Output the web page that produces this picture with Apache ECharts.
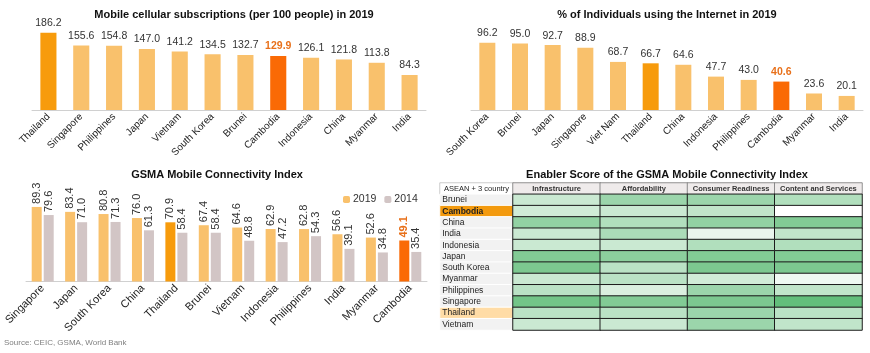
<!DOCTYPE html>
<html lang="en">
<head>
    <meta charset="UTF-8">
    <title>ASEAN+3 mobile connectivity</title>
    <script src="https://cdn.jsdelivr.net/npm/echarts@6/dist/echarts.min.js"></script>
    <style>
        html, body { margin: 0; padding: 0; background: #fff; }
        #chart { width: 870px; height: 353px; }
    </style>
</head>
<body>
    <div id="chart"></div>
    <script>
        // --- data ---
        var mobCountries = ['Thailand', 'Singapore', 'Philippines', 'Japan', 'Vietnam', 'South Korea', 'Brunei', 'Cambodia', 'Indonesia', 'China', 'Myanmar', 'India'];
        var mobValues = [186.2, 155.6, 154.8, 147.0, 141.2, 134.5, 132.7, 129.9, 126.1, 121.8, 113.8, 84.3];

        var netCountries = ['South Korea', 'Brunei', 'Japan', 'Singapore', 'Viet Nam', 'Thailand', 'China', 'Indonesia', 'Philippines', 'Cambodia', 'Myanmar', 'India'];
        var netValues = [96.2, 95.0, 92.7, 88.9, 68.7, 66.7, 64.6, 47.7, 43.0, 40.6, 23.6, 20.1];

        var gsmaCountries = ['Singapore', 'Japan', 'South Korea', 'China', 'Thailand', 'Brunei', 'Vietnam', 'Indonesia', 'Philippines', 'India', 'Myanmar', 'Cambodia'];
        var gsma2019 = [89.3, 83.4, 80.8, 76.0, 70.9, 67.4, 64.6, 62.9, 62.8, 56.6, 52.6, 49.1];
        var gsma2014 = [79.6, 71.0, 71.3, 61.3, 58.4, 58.4, 48.8, 47.2, 54.3, 39.1, 34.8, 35.4];

        var enablerHeader = 'ASEAN + 3 country';
        var enablerPillars = ['Infrastructure', 'Affordability', 'Consumer Readiness', 'Content and Services'];
        var enablerCountries = ['Brunei', 'Cambodia', 'China', 'India', 'Indonesia', 'Japan', 'South Korea', 'Myanmar', 'Philippines', 'Singapore', 'Thailand', 'Vietnam'];
        // estimated from the shading of each cell
        var enablerScores = [
            [57, 72, 72, 65],
            [55, 57, 60, 40],
            [75, 65, 75, 80],
            [57, 67, 47, 60],
            [57, 57, 65, 65],
            [80, 77, 80, 80],
            [82, 62, 82, 82],
            [57, 62, 55, 45],
            [62, 52, 72, 60],
            [85, 80, 82, 90],
            [62, 62, 72, 62],
            [57, 57, 72, 60]
        ];

        var FONT = 'Liberation Sans';
        var C_LIGHT = '#F9C16C';
        var C_THAI = '#F79B0C';
        var C_CAMB = '#FA6A05';
        var C_GREY = '#D2C5C5';

        function barColor(name) {
            if (name === 'Thailand') return C_THAI;
            if (name === 'Cambodia') return C_CAMB;
            return C_LIGHT;
        }

        function barData(names, values) {
            return values.map(function (v, i) {
                var item = { value: v, itemStyle: { color: barColor(names[i]) } };
                if (names[i] === 'Cambodia') {
                    item.label = { color: '#E8701A', fontWeight: 'bold' };
                }
                return item;
            });
        }

        function oneDecimal(p) { return Number(p.value).toFixed(1); }

        function catAxis(grid, names, size) {
            return {
                type: 'category', gridIndex: grid, data: names,
                axisLine: { lineStyle: { color: '#d0d0d0' } },
                axisTick: { show: false },
                axisLabel: { rotate: 45, fontSize: size, color: '#222', fontFamily: FONT, margin: 5, interval: 0 }
            };
        }
        function valAxis(grid, max) {
            return { type: 'value', gridIndex: grid, min: 0, max: max, show: false, splitLine: { show: false } };
        }

        var topLabel = { show: true, position: 'top', distance: 4, fontSize: 10.5, color: '#333',
                         fontFamily: FONT, formatter: oneDecimal };
        var sideLabel = { show: true, position: 'top', rotate: 90, align: 'left', verticalAlign: 'middle',
                          distance: 3, fontSize: 11, color: '#333', fontFamily: FONT, formatter: oneDecimal };

        // table cells (header row + country column are drawn as heatmap cells too)
        var rowNames = [enablerHeader].concat(enablerCountries);
        var labelCells = rowNames.map(function (n, i) {
            var bg = '#F2F2F2', weight = 'normal', pos = 'insideLeft';
            if (i === 0) { bg = '#FFFFFF'; pos = 'inside'; }
            if (n === 'Cambodia') { bg = '#F39A0E'; weight = 'bold'; }
            if (n === 'Thailand') { bg = '#FFDCA6'; }
            return {
                value: [0, i, 0],
                itemStyle: { color: bg, borderColor: i === 0 ? '#999' : '#fff', borderWidth: i === 0 ? 0.5 : 1 },
                label: { position: pos, fontWeight: weight, fontSize: i === 0 ? 7.5 : 8.5 }
            };
        });
        var headCells = enablerPillars.map(function (p, j) {
            return [j, 0, 0];
        });
        var scoreCells = [];
        enablerScores.forEach(function (row, i) {
            row.forEach(function (s, j) {
                scoreCells.push([j, i + 1, s]);
            });
        });

        var chart = echarts.init(document.getElementById('chart'));

        var titleStyle = { fontSize: 11, fontWeight: 'bold', color: '#111', fontFamily: FONT };

        var option = {
            animation: false,
            textStyle: { fontFamily: FONT },
            title: [
                { text: 'Mobile cellular subscriptions (per 100 people) in 2019', left: 229, top: 4, textAlign: 'center', textStyle: titleStyle },
                { text: '% of Individuals using the Internet in 2019', left: 662, top: 4, textAlign: 'center', textStyle: titleStyle },
                { text: 'GSMA Mobile Connectivity Index', left: 212, top: 164, textAlign: 'center', textStyle: titleStyle },
                { text: 'Enabler Score of the GSMA Mobile Connectivity Index', left: 662, top: 164, textAlign: 'center', textStyle: titleStyle }
            ],
            legend: {
                data: ['2019', '2014'], left: 338, top: 189,
                itemWidth: 7, itemHeight: 7, itemGap: 8,
                textStyle: { fontSize: 10.5, color: '#333', fontFamily: FONT, padding: [0, 0, 0, -2] }
            },
            grid: [
                { left: 32, width: 394, top: 27, height: 83 },
                { left: 471, width: 392, top: 26, height: 84 },
                { left: 26, width: 401, top: 198, height: 83.5 },
                { left: 440, width: 73, top: 183, height: 147 },
                { left: 513, width: 349, top: 183, height: 147 }
            ],
            xAxis: [
                catAxis(0, mobCountries, 10),
                catAxis(1, netCountries, 10),
                catAxis(2, gsmaCountries, 11),
                { type: 'category', gridIndex: 3, data: [enablerHeader], show: false },
                { type: 'category', gridIndex: 4, data: enablerPillars, show: false }
            ],
            yAxis: [
                valAxis(0, 200),
                valAxis(1, 120),
                valAxis(2, 100),
                { type: 'category', gridIndex: 3, data: rowNames, inverse: true, show: false },
                { type: 'category', gridIndex: 4, data: rowNames, inverse: true, show: false }
            ],
            visualMap: {
                show: false, type: 'continuous', seriesIndex: 6, dimension: 2,
                min: 40, max: 90, inRange: { color: ['#FFFFFF', '#63BE7B'] }
            },
            series: [
                { type: 'bar', xAxisIndex: 0, yAxisIndex: 0, barCategoryGap: '51%',
                  data: barData(mobCountries, mobValues), label: topLabel },
                { type: 'bar', xAxisIndex: 1, yAxisIndex: 1, barCategoryGap: '51%',
                  data: barData(netCountries, netValues), label: topLabel },
                { name: '2019', type: 'bar', xAxisIndex: 2, yAxisIndex: 2, barWidth: 10, barGap: '20%',
                  itemStyle: { color: C_LIGHT },
                  data: barData(gsmaCountries, gsma2019), label: sideLabel },
                { name: '2014', type: 'bar', xAxisIndex: 2, yAxisIndex: 2, barWidth: 10,
                  itemStyle: { color: C_GREY },
                  data: gsma2014, label: sideLabel },
                { type: 'heatmap', xAxisIndex: 3, yAxisIndex: 3, data: labelCells,
                  label: { show: true, formatter: function (p) { return rowNames[p.value[1]]; },
                           fontSize: 8.5, color: '#222', fontFamily: FONT, distance: 3 } },
                { type: 'heatmap', xAxisIndex: 4, yAxisIndex: 4, data: headCells,
                  itemStyle: { color: '#EFEBEB', borderColor: '#777', borderWidth: 0.8 },
                  label: { show: true, formatter: function (p) { return enablerPillars[p.value[0]]; },
                           fontSize: 7.5, fontWeight: 'bold', color: '#333', fontFamily: FONT } },
                { type: 'heatmap', xAxisIndex: 4, yAxisIndex: 4, data: scoreCells,
                  itemStyle: { borderColor: '#1c1c1c', borderWidth: 1 } }
            ],
            graphic: [
                { type: 'text', left: 4, top: 339,
                  style: { text: 'Source: CEIC, GSMA, World Bank', fontSize: 8, fill: '#808080', fontFamily: FONT } }
            ]
        };

        chart.setOption(option);

        window.addEventListener('resize', function () {
            chart.resize();
        });
    </script>
</body>
</html>
